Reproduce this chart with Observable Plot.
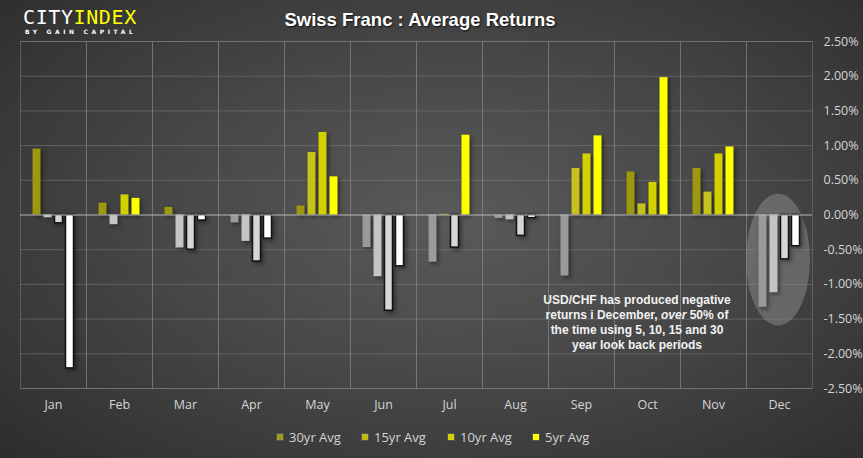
<!DOCTYPE html>
<html>
<head>
<meta charset="utf-8">
<script src="https://cdn.jsdelivr.net/npm/d3@7"></script>
<script src="https://cdn.jsdelivr.net/npm/@observablehq/plot@0.6"></script>
<style>
  html, body { margin: 0; padding: 0; }
  body {
    width: 863px; height: 458px; overflow: hidden; position: relative;
    background: radial-gradient(ellipse 75% 80% at 52% 48%, #5a5a5a 0%, #474747 45%, #353535 80%, #2a2a2a 100%);
    font-family: "Liberation Sans", Arial, sans-serif;
  }
  #chart { position: absolute; left: 0; top: 0; }
  #logo { position: absolute; left: 23px; top: 6px; }
  #logo .main { font-family: "DejaVu Sans Mono", monospace; font-size: 20px; letter-spacing: 0.6px; line-height: 22px; }
  #logo .city { color: #ffffff; }
  #logo .index { color: #ffff00; }
  #logo .sub { font-family: "DejaVu Sans", sans-serif; font-weight: bold; font-size: 6px; color: #fff; letter-spacing: 3.6px; margin-left: 2px; margin-top: 0px; }
  #title { position: absolute; left: 0; width: 840px; top: 9px; text-align: center; color: #fff; font-weight: bold; font-size: 18.5px; text-shadow: 1px 1px 2px rgba(0,0,0,0.8); }
  #note { position: absolute; left: 537px; width: 200px; top: 293px; text-align: center; color: #f2f2f2; font-weight: bold; font-size: 12px; line-height: 15px; }
  #legend { position: absolute; top: 428px; left: 0; width: 863px; height: 20px; }
  #legend .item { position: absolute; top: 0; font-family: "Open Sans", sans-serif; font-size: 13px; color: #d4d4d4; line-height: 18px; }
  #legend .sw { position: absolute; width: 8px; height: 8px; top: 5px; left: -13px; border: 1px solid #555; box-sizing: border-box; }
</style>
</head>
<body>
<div id="logo"><div class="main"><span class="city">CITY</span><span class="index">INDEX</span></div><div class="sub">BY GAIN CAPITAL</div></div>
<div id="title">Swiss Franc : Average Returns</div>
<div id="chart"></div>
<div id="note">USD/CHF has produced negative<br>returns i December, <i>over</i> 50% of<br>the time using 5, 10, 15 and 30<br>year look back periods</div>
<div id="legend"></div>
<script>
const months = ["Jan","Feb","Mar","Apr","May","Jun","Jul","Aug","Sep","Oct","Nov","Dec"];
const series = ["30yr Avg","15yr Avg","10yr Avg","5yr Avg"];
const avg30 = [0.95, 0.17, 0.11, -0.115, 0.13, -0.47, -0.68, -0.05, -0.88, 0.62, 0.67, -1.33];
const avg15 = [-0.04, -0.14, -0.475, -0.38, 0.90, -0.89, 0.01, -0.07, 0.67, 0.16, 0.33, -1.12];
const avg10 = [-0.12, 0.29, -0.50, -0.67, 1.19, -1.38, -0.47, -0.30, 0.88, 0.47, 0.88, -0.64];
const avg5  = [-2.21, 0.24, -0.08, -0.34, 0.55, -0.74, 1.15, -0.045, 1.14, 1.98, 0.98, -0.45];
const yTicks = [2.5, 2, 1.5, 1, 0.5, 0, -0.5, -1, -1.5, -2, -2.5];

const posColors = {"30yr Avg": "#9c9812", "15yr Avg": "#c6c21c", "10yr Avg": "#d3d000", "5yr Avg": "#ffff00"};
const negColors = {"30yr Avg": "#9a9a9a", "15yr Avg": "#c4c4c4", "10yr Avg": "#d6d6d6", "5yr Avg": "#ffffff"};
const legendColors = {"30yr Avg": "#9e9c1e", "15yr Avg": "#bdbb1c", "10yr Avg": "#d2d000", "5yr Avg": "#ffff00"};

const seriesValues = [avg30, avg15, avg10, avg5];
const rows = [];
months.forEach((m, i) => series.forEach((s, j) => rows.push({month: m, series: s, value: seriesValues[j][i]})));
rows.forEach(r => {
  r.fill = r.value >= 0 ? posColors[r.series] : negColors[r.series];
  r.outline = (r.value < 0 && (r.series === "10yr Avg" || r.series === "5yr Avg")) ? 1 : 0;
});

const plot = Plot.plot({
  width: 863,
  height: 420,
  marginTop: 41,
  marginBottom: 32,
  marginLeft: 19.5,
  marginRight: 51.5,
  style: {background: "transparent", color: "#d4d4d4", fontFamily: "'Open Sans', sans-serif", fontSize: "12.5px", overflow: "visible"},
  facet: {data: rows, x: "month"},
  fx: {domain: months, padding: 0, label: null, axis: "bottom", tickSize: 0, tickPadding: 12},
  x: {domain: series, paddingInner: 0.3, paddingOuter: 1.15, axis: null},
  y: {domain: [-2.5, 2.5], ticks: yTicks, axis: "right", tickSize: 0, tickPadding: 11, label: null,
      tickFormat: d => d.toFixed(2) + "%"},
  color: {type: "identity"},
  marks: [
    Plot.ruleY(yTicks.filter(t => t !== 0), {stroke: "#8a8a8a", strokeOpacity: 0.45, strokeWidth: 1}),
    Plot.frame({stroke: "#8a8a8a", strokeOpacity: 0.45}),
    Plot.barY(rows, {x: "series", y: "value", fill: "fill", stroke: "#111111", strokeWidth: 1.5, strokeOpacity: "outline"}),
    Plot.ruleY([0], {stroke: "#b8b8b8", strokeWidth: 1.2})
  ]
});
document.getElementById("chart").appendChild(plot);

// drop shadows on bars
plot.querySelectorAll('g[aria-label="bar"]').forEach(g => g.style.filter = "drop-shadow(2px 2px 2px rgba(0,0,0,0.45))");

// highlight ellipse around December, positioned through the plot's scales
try {
  const fx = plot.scale("fx");
  const y = plot.scale("y");
  const cx = fx.apply("Dec") + fx.bandwidth / 2;
  const cy = y.apply(-0.65);
  const ry = (y.apply(-0.65) - y.apply(0.30));
  const ns = "http://www.w3.org/2000/svg";
  const el = document.createElementNS(ns, "ellipse");
  el.setAttribute("cx", cx - 1);
  el.setAttribute("cy", cy);
  el.setAttribute("rx", 32);
  el.setAttribute("ry", ry);
  el.setAttribute("fill", "rgba(200,200,200,0.28)");
  const firstG = plot.querySelector("g");
  plot.insertBefore(el, firstG);
} catch (e) { console.error(e); }

// legend
const legend = document.getElementById("legend");
const legendX = [289, 374, 460, 545];
series.forEach((s, i) => {
  const it = document.createElement("div");
  it.className = "item";
  it.style.left = legendX[i] + "px";
  it.innerHTML = `<span class="sw" style="background:${legendColors[s]}"></span>${s}`;
  legend.appendChild(it);
});
</script>
</body>
</html>
